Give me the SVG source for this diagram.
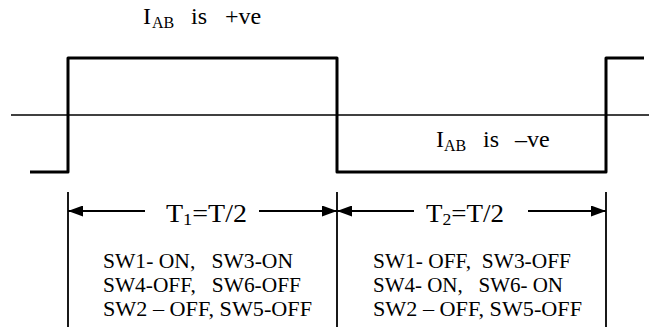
<svg xmlns="http://www.w3.org/2000/svg" width="649" height="327" viewBox="0 0 649 327">
<style>
  text { font-family: "Liberation Serif", "Times New Roman", serif; fill: #000; }
  .lbl { font-size: 24px; }
  .sub { font-size: 16px; }
  .per { font-size: 26px; }
  .psub { font-size: 17px; }
  .sw { font-size: 21px; }
  .wave { fill: none; stroke: #000; stroke-width: 3; stroke-linejoin: round; }
  .axis { stroke: #000; stroke-width: 1.5; fill: none; }
  .dim { stroke: #000; stroke-width: 1.8; fill: none; }
</style>
<defs>
  <marker id="ah" viewBox="0 0 15 11" refX="15" refY="5.5" markerWidth="15" markerHeight="11" markerUnits="userSpaceOnUse" orient="auto">
    <path d="M0,0 L15,5.5 L0,11 Z" fill="#000"/>
  </marker>
</defs>
<g id="axis">
  <line class="axis" x1="11" y1="115" x2="649" y2="115"/>
</g>
<g id="waveform">
  <path class="wave" d="M30,172 H68 V58 H337 V172 H606 V58 H644"/>
</g>
<g id="label-pos">
  <text class="lbl" x="143" y="24">I<tspan class="sub" x="152" dy="4">AB</tspan><tspan dy="-4" x="191">is</tspan><tspan x="225">+ve</tspan></text>
</g>
<g id="label-neg">
  <text class="lbl" x="436" y="147">I<tspan class="sub" x="444" dy="4">AB</tspan><tspan dy="-4" x="483">is</tspan><tspan x="515">–ve</tspan></text>
</g>
<g id="connectors">
  <line class="dim" x1="68" y1="192" x2="68" y2="327"/>
  <line class="dim" x1="337" y1="192" x2="337" y2="327"/>
  <line class="dim" x1="606" y1="192" x2="606" y2="327"/>
  <line class="dim" x1="145" y1="211" x2="68" y2="211" marker-end="url(#ah)"/>
  <line class="dim" x1="259" y1="211" x2="337" y2="211" marker-end="url(#ah)"/>
  <line class="dim" x1="414" y1="211" x2="337" y2="211" marker-end="url(#ah)"/>
  <line class="dim" x1="528" y1="211" x2="606" y2="211" marker-end="url(#ah)"/>
</g>
<g id="period-1">
  <text class="per" x="166" y="222" textLength="81" lengthAdjust="spacingAndGlyphs">T<tspan class="psub" dy="3">1</tspan><tspan dy="-3">=T/2</tspan></text>
  <text class="sw" x="103" y="268" xml:space="preserve" textLength="190" lengthAdjust="spacingAndGlyphs">SW1- ON,   SW3-ON</text>
  <text class="sw" x="103" y="292" xml:space="preserve" textLength="198" lengthAdjust="spacingAndGlyphs">SW4-OFF,   SW6-OFF</text>
  <text class="sw" x="103" y="316" xml:space="preserve" textLength="209" lengthAdjust="spacingAndGlyphs">SW2 – OFF, SW5-OFF</text>
</g>
<g id="period-2">
  <text class="per" x="426" y="222" textLength="78" lengthAdjust="spacingAndGlyphs">T<tspan class="psub" dy="3">2</tspan><tspan dy="-3">=T/2</tspan></text>
  <text class="sw" x="373" y="268" xml:space="preserve" textLength="198" lengthAdjust="spacingAndGlyphs">SW1- OFF,  SW3-OFF</text>
  <text class="sw" x="373" y="292" xml:space="preserve" textLength="190" lengthAdjust="spacingAndGlyphs">SW4- ON,   SW6- ON</text>
  <text class="sw" x="373" y="316" xml:space="preserve" textLength="209" lengthAdjust="spacingAndGlyphs">SW2 – OFF, SW5-OFF</text>
</g>
</svg>
